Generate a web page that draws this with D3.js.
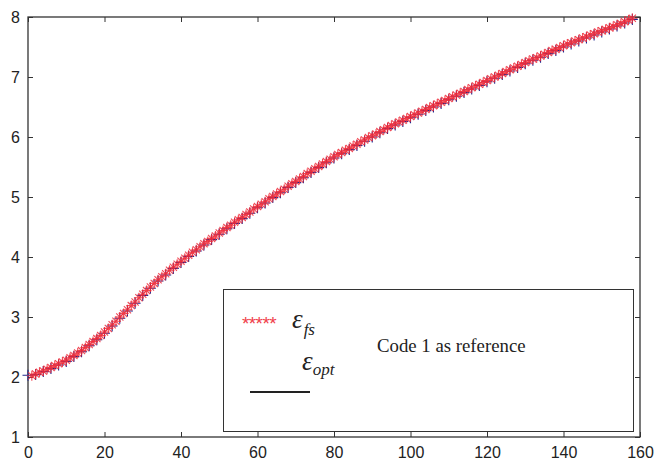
<!DOCTYPE html>
<html>
<head>
<meta charset="utf-8">
<script src="https://cdn.jsdelivr.net/npm/d3@7"></script>
<style>
  html, body { margin: 0; padding: 0; background: #fff; }
  svg { display: block; }
</style>
</head>
<body>
<svg id="chart" width="655" height="462"></svg>
<script>
// axis ticks
const xTicks = [0, 20, 40, 60, 80, 100, 120, 140, 160];
const yTicks = [1, 2, 3, 4, 5, 6, 7, 8];

// eps_fs (red stars), x = 1..158
const fsX = d3.range(1, 159);
const fsY = [
  2.02, 2.05, 2.08, 2.10, 2.13, 2.16, 2.19, 2.22, 2.25, 2.28,
  2.32, 2.36, 2.40, 2.44, 2.49, 2.54, 2.59, 2.64, 2.69, 2.75,
  2.81, 2.87, 2.93, 3.00, 3.06, 3.12, 3.19, 3.25, 3.32, 3.38,
  3.44, 3.50, 3.56, 3.62, 3.67, 3.72, 3.78, 3.83, 3.88, 3.93,
  3.98, 4.03, 4.08, 4.12, 4.17, 4.22, 4.26, 4.31, 4.35, 4.40,
  4.44, 4.49, 4.53, 4.58, 4.62, 4.66, 4.71, 4.75, 4.80, 4.84,
  4.88, 4.92, 4.97, 5.01, 5.05, 5.09, 5.13, 5.18, 5.22, 5.26,
  5.30, 5.34, 5.39, 5.43, 5.47, 5.51, 5.55, 5.59, 5.63, 5.67,
  5.71, 5.74, 5.78, 5.81, 5.85, 5.88, 5.92, 5.95, 5.99, 6.02,
  6.05, 6.09, 6.12, 6.16, 6.19, 6.22, 6.25, 6.28, 6.31, 6.34,
  6.37, 6.40, 6.43, 6.46, 6.49, 6.52, 6.55, 6.58, 6.61, 6.64,
  6.67, 6.70, 6.73, 6.76, 6.79, 6.82, 6.85, 6.88, 6.91, 6.94,
  6.97, 7.00, 7.03, 7.06, 7.09, 7.12, 7.15, 7.18, 7.21, 7.24,
  7.27, 7.30, 7.32, 7.35, 7.38, 7.41, 7.44, 7.46, 7.49, 7.52,
  7.55, 7.57, 7.60, 7.62, 7.65, 7.67, 7.70, 7.72, 7.75, 7.77,
  7.79, 7.82, 7.84, 7.87, 7.89, 7.92, 7.95, 7.98
];

// eps_opt (blue plus), x = 0..158 step 2
const optX = d3.range(0, 160, 2);
const optY = [
  2.03, 2.04, 2.09, 2.14, 2.20, 2.26, 2.34, 2.42, 2.52, 2.62,
  2.73, 2.85, 2.98, 3.10, 3.23, 3.36, 3.48, 3.60, 3.70, 3.81,
  3.91, 4.01, 4.10, 4.20, 4.29, 4.38, 4.47, 4.56, 4.64, 4.73,
  4.82, 4.90, 4.99, 5.07, 5.16, 5.24, 5.32, 5.41, 5.49, 5.57,
  5.65, 5.72, 5.79, 5.86, 5.93, 6.00, 6.07, 6.14, 6.20, 6.26,
  6.32, 6.38, 6.44, 6.50, 6.56, 6.62, 6.68, 6.74, 6.80, 6.86,
  6.92, 6.98, 7.04, 7.10, 7.16, 7.22, 7.28, 7.33, 7.39, 7.44,
  7.50, 7.55, 7.60, 7.65, 7.70, 7.75, 7.80, 7.85, 7.90, 7.96
];

const svg = d3.select("#chart");
const margin = { top: 17, right: 15, bottom: 25, left: 28 };
const W = 655, H = 462;

const x = d3.scaleLinear().domain([0, 160]).range([margin.left, W - margin.right]);
const y = d3.scaleLinear().domain([1, 8]).range([H - margin.bottom, margin.top]);

const axisColor = "#333";
const tickLen = 5;

function styleAxis(g) {
  g.select(".domain").remove();
  g.selectAll("line").attr("stroke", axisColor).attr("stroke-width", 1);
  g.selectAll("text")
    .attr("fill", "#222")
    .attr("font-family", "Arial, 'Liberation Sans', sans-serif")
    .attr("font-size", 16);
}

// bottom / left axes with labels, ticks pointing inwards
svg.append("g")
  .attr("transform", `translate(0,${y(1)})`)
  .call(d3.axisBottom(x).tickValues(xTicks).tickFormat(d3.format("d"))
    .tickSizeInner(-tickLen).tickSizeOuter(0).tickPadding(10))
  .call(styleAxis);

svg.append("g")
  .attr("transform", `translate(${x(0)},0)`)
  .call(d3.axisLeft(y).tickValues(yTicks).tickFormat(d3.format("d"))
    .tickSizeInner(-tickLen).tickSizeOuter(0).tickPadding(8))
  .call(styleAxis);

// top / right ticks (no labels)
svg.append("g")
  .attr("transform", `translate(0,${y(8)})`)
  .call(d3.axisTop(x).tickValues(xTicks).tickSizeInner(-tickLen).tickSizeOuter(0).tickFormat(""))
  .call(styleAxis);

svg.append("g")
  .attr("transform", `translate(${x(160)},0)`)
  .call(d3.axisRight(y).tickValues(yTicks).tickSizeInner(-tickLen).tickSizeOuter(0).tickFormat(""))
  .call(styleAxis);

// frame
svg.append("rect")
  .attr("x", x(0)).attr("y", y(8))
  .attr("width", x(160) - x(0)).attr("height", y(1) - y(8))
  .attr("fill", "none").attr("stroke", axisColor).attr("stroke-width", 1.3);

// markers
const plusPath = s => `M${-s},0H${s}M0,${-s}V${s}`;
const starPath = s => {
  const d = s * 0.72;
  return `M${-s},0H${s}M0,${-s}V${s}M${-d},${-d}L${d},${d}M${-d},${d}L${d},${-d}`;
};

svg.append("g").selectAll("path")
  .data(optX.map((v, i) => [v, optY[i]]))
  .enter().append("path")
    .attr("transform", d => `translate(${x(d[0])},${y(d[1])})`)
    .attr("d", plusPath(5.5))
    .attr("stroke", "#1f2a8f")
    .attr("stroke-width", 1.1)
    .attr("fill", "none");

svg.append("g").selectAll("path")
  .data(fsX.map((v, i) => [v, fsY[i]]))
  .enter().append("path")
    .attr("transform", d => `translate(${x(d[0])},${y(d[1])})`)
    .attr("d", starPath(5))
    .attr("stroke", "#ee2a38")
    .attr("stroke-width", 1.1)
    .attr("stroke-opacity", 0.85)
    .attr("fill", "none");

// legend box
const lg = svg.append("g");
lg.append("rect")
  .attr("x", 223.5).attr("y", 289.5)
  .attr("width", 410).attr("height", 142)
  .attr("fill", "#fff").attr("stroke", axisColor).attr("stroke-width", 1);

lg.append("text")
  .attr("x", 242).attr("y", 330)
  .attr("fill", "#f0404a")
  .attr("font-family", "Arial, 'Liberation Sans', sans-serif")
  .attr("font-size", 19)
  .attr("letter-spacing", -0.6)
  .text("*****");

const serif = "'Liberation Serif', 'Times New Roman', serif";
const eFs = lg.append("text")
  .attr("x", 292).attr("y", 328)
  .attr("fill", "#222").attr("font-family", serif).attr("font-style", "italic");
eFs.append("tspan").attr("font-size", 27).text("ε");
eFs.append("tspan").attr("font-size", 17).attr("dx", 1).attr("dy", 7).text("fs");

const eOpt = lg.append("text")
  .attr("x", 302).attr("y", 370)
  .attr("fill", "#222").attr("font-family", serif).attr("font-style", "italic");
eOpt.append("tspan").attr("font-size", 27).text("ε");
eOpt.append("tspan").attr("font-size", 17).attr("dy", 5).text("opt");

lg.append("line")
  .attr("x1", 250).attr("x2", 310)
  .attr("y1", 392).attr("y2", 392)
  .attr("stroke", "#222").attr("stroke-width", 1.8);

lg.append("text")
  .attr("x", 377).attr("y", 352)
  .attr("fill", "#222").attr("font-family", serif).attr("font-size", 18.8)
  .text("Code 1 as reference");
</script>
</body>
</html>
